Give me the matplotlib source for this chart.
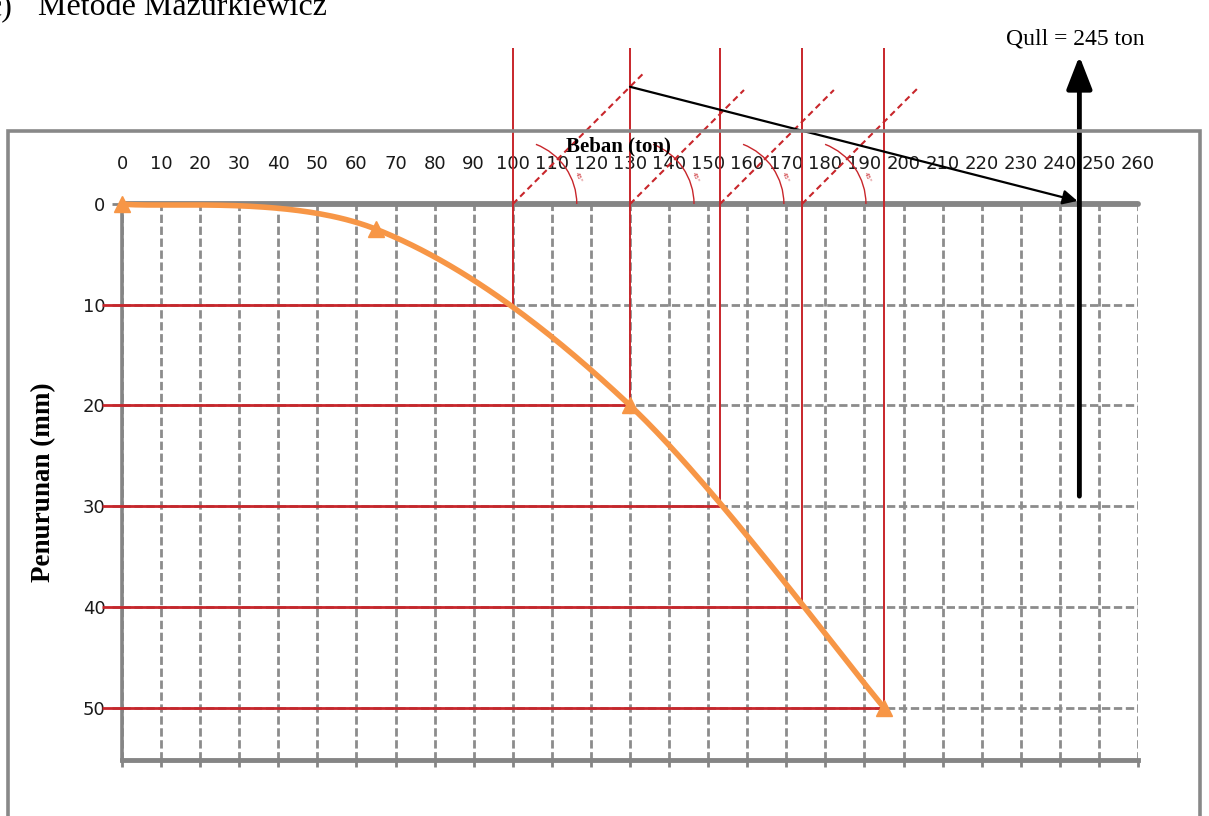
import numpy as np
import matplotlib
matplotlib.use("Agg")
import matplotlib.pyplot as plt
from matplotlib.patches import Arc, Rectangle

# ---------------- data ----------------
beban = [0, 65, 130, 195]                 # load (ton)
penurunan = [0, 2.5, 20, 50]              # settlement (mm)
x_ticks = list(range(0, 261, 10))
y_ticks = [0, 10, 20, 30, 40, 50]
level_settle = [10, 20, 30, 40, 50]       # settlement levels (mm)
level_load = [100, 130, 153, 174, 195]    # loads read at those levels (ton)
q_ult = 245                               # ultimate load (ton)
title_num = "c)"
title_text = "Metode Mazurkiewicz"
qult_text = "Qull = 245 ton"
xlabel = "Beban (ton)"
ylabel = "Penurunan (mm)"
angle_label = "45°"

# ---------------- helpers ----------------
def excel_smooth(xs, ys, n=80):
    P = np.column_stack([xs, ys]).astype(float)
    m = len(P)
    out = [P[0]]
    t = np.linspace(0, 1, n)[1:, None]
    for i in range(m - 1):
        p0 = P[i - 1] if i > 0 else P[i]
        p1, p2 = P[i], P[i + 1]
        p3 = P[i + 2] if i + 2 < m else P[i + 1]
        c1 = p1 + (p2 - p0) / 6.0
        c2 = p2 - (p3 - p1) / 6.0
        seg = (1 - t) ** 3 * p1 + 3 * (1 - t) ** 2 * t * c1 + 3 * (1 - t) * t ** 2 * c2 + t ** 3 * p2
        out.extend(seg)
    return np.array(out)

W, H = 1209, 816
fig = plt.figure(figsize=(W / 100, H / 100), dpi=100)
L, R, T, B = 122, 1138, 204, 760
ax = fig.add_axes([L / W, 1 - B / H, (R - L) / W, (B - T) / H])
ax.set_xlim(0, 260)
ax.set_ylim(55.2, 0)

red = "#c8262b"
gray = "#858585"
orange = "#F79646"

# outer frame
fig.patches.append(Rectangle((8 / W, -0.05), (1200 - 8) / W, (1 - 131 / H) + 0.05,
                             transform=fig.transFigure, fill=False, ec="#888888", lw=2.6))

# grid & axes styling
ax.set_xticks(x_ticks)
ax.set_yticks(y_ticks)
ax.set_axisbelow(True)
ax.grid(True, color="#8c8c8c", ls=(0, (3, 1.3)), lw=2)
ax.spines["right"].set_visible(False)
ax.spines["top"].set_color(gray)
ax.spines["top"].set_linewidth(4.2)
ax.spines["top"].set_capstyle("round")
ax.spines["left"].set_color(gray)
ax.spines["left"].set_linewidth(2.6)
ax.spines["bottom"].set_color(gray)
ax.spines["bottom"].set_linewidth(3.5)
ax.xaxis.tick_top()
ax.tick_params(axis="x", which="both", length=0, pad=22, labelsize=13, labelcolor="#1a1a1a")
ax.tick_params(axis="y", length=7, width=2, color=gray, pad=5, labelsize=13, labelcolor="#1a1a1a")

sec = ax.secondary_xaxis("bottom")
sec.set_xticks(x_ticks)
sec.set_xticklabels([])
sec.tick_params(length=5, width=2, color=gray)
sec.spines["bottom"].set_visible(False)

# pixel scale
p0 = ax.transData.transform((0, 0))
p1 = ax.transData.transform((1, 1))
px_x = abs(p1[0] - p0[0])
px_y = abs(p1[1] - p0[1])

top_y = -(T - 48) / px_y

# construction lines
ax.vlines(level_load, top_y, level_settle, colors=red, lw=1.4, clip_on=False, zorder=3)
ax.hlines(level_settle, -20 / px_x, level_load, colors=red, lw=2, clip_on=False, zorder=3)

diag_lens = [130, 114, 114, 117]
for x0, dl in zip(level_load[:-1], diag_lens):
    ax.plot([x0, x0 + dl / px_x], [0, -dl / px_y], ls=(0, (3, 2)),
            color=red, lw=1.5, clip_on=False, zorder=3)
    r = 64
    ax.add_patch(Arc((x0, 0), 2 * r / px_x, 2 * r / px_y, theta1=-45, theta2=0,
                     color=red, lw=1, clip_on=False, zorder=3))
    ang = np.deg2rad(22)
    ax.text(x0 + (r + 7) * np.cos(ang) / px_x, -(r + 7) * np.sin(ang) / px_y, angle_label,
            color=red, fontsize=4.5, rotation=-65, ha="center", va="center", clip_on=False)

# black fitted line with arrow to Qult
start_x = level_load[1]
start_y = -(level_load[1] - level_load[0]) * px_x / px_y
ax.annotate("", xy=(q_ult - 0.5, -0.3), xytext=(start_x, start_y),
            arrowprops=dict(arrowstyle="-|>", color="black", lw=1.6, mutation_scale=22,
                            shrinkA=0, shrinkB=0), annotation_clip=False, zorder=7)

# vertical Qult arrow
ax.annotate("", xy=(q_ult, -(T - 56) / px_y), xytext=(q_ult, 29),
            arrowprops=dict(arrowstyle="-|>,head_width=0.35,head_length=0.9", color="black",
                            lw=3.5, mutation_scale=22, shrinkA=0, shrinkB=0),
            annotation_clip=False, zorder=7)

# load-settlement curve
curve = excel_smooth(beban, penurunan)
ax.plot(curve[:, 0], curve[:, 1], color=orange, lw=4, clip_on=False, zorder=5,
        solid_capstyle="round")
ax.plot(beban, penurunan, ls="none", marker="^", ms=11, color=orange, clip_on=False, zorder=6)

# texts
serif = "Liberation Serif"
fig.text(-12 / W, 1 - 15 / H, title_num, family=serif, fontsize=23, va="baseline")
fig.text(38 / W, 1 - 15 / H, title_text, family=serif, fontsize=23, va="baseline")
fig.text(1145 / W, 1 - 44 / H, qult_text, family=serif, fontsize=17, va="baseline", ha="right")
fig.text(618 / W, 1 - 151 / H, xlabel, family=serif, fontsize=15, fontweight="bold",
         ha="center", va="baseline")
fig.text(44 / W, 1 - 482 / H, ylabel, family=serif, fontsize=19.5, fontweight="bold",
         rotation=90, ha="center", va="center")

fig.savefig("out.png", dpi=100)
